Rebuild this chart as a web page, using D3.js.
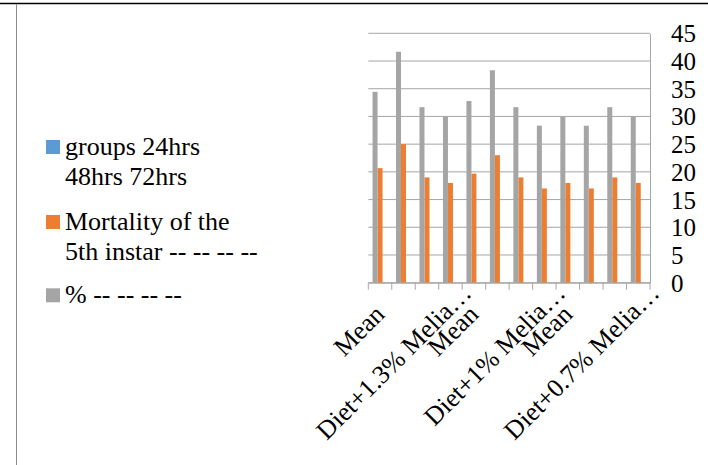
<!DOCTYPE html>
<html>
<head>
<meta charset="utf-8">
<script src="https://cdn.jsdelivr.net/npm/d3@7"></script>
<style>
  html, body { margin: 0; padding: 0; background: #fff; }
  svg { display: block; }
  text { font-family: "Liberation Serif", "Times New Roman", serif; fill: #000; }
</style>
</head>
<body>
<svg id="chart" width="708" height="465"></svg>
<script>
// Twelve groups, drawn left to right
const categories = ["g1", "g2", "g3", "g4", "g5", "g6", "g7", "g8", "g9", "g10", "g11", "g12"];
// Axis labels (every second group is labelled)
const tickLabels = ["Mean", "", "Diet+1.3% Melia…", "", "Mean", "", "Diet+1% Melia…", "", "Mean", "", "Diet+0.7% Melia…", ""];
// Series values
const groupsHrs = [null, null, null, null, null, null, null, null, null, null, null, null];
const mortality5th = [20.67, 25, 19, 18, 19.67, 23, 19, 17, 18, 17, 19, 18];
const percent = [34.44, 41.67, 31.67, 30, 32.78, 38.33, 31.67, 28.33, 30, 28.33, 31.67, 30];
const yTicks = [0, 5, 10, 15, 20, 25, 30, 35, 40, 45];

const seriesColors = ["#5B9BD5", "#ED7D31", "#A5A5A5"];
const seriesValues = [groupsHrs, mortality5th, percent];

const svg = d3.select("#chart");

// page frame
svg.append("line").attr("x1", 0).attr("x2", 708).attr("y1", 3.5).attr("y2", 3.5)
  .attr("stroke", "#000").attr("stroke-width", 1.5);
svg.append("line").attr("x1", 16.5).attr("x2", 16.5).attr("y1", 4).attr("y2", 465)
  .attr("stroke", "#8c8c8c").attr("stroke-width", 1);

const plot = { left: 368.3, right: 650, top: 33.3, bottom: 282.7 };

const x0 = d3.scaleBand().domain(categories).range([plot.left, plot.right]).padding(0);
// bars within each group run right-to-left in series order
const x1 = d3.scaleBand().domain([2, 1, 0]).range([0, x0.bandwidth()])
  .paddingInner(0).paddingOuter(0.847);
const y = d3.scaleLinear().domain([0, 45]).range([plot.bottom, plot.top]);

// gridlines
svg.append("g").selectAll("line").data(yTicks).join("line")
  .attr("x1", plot.left).attr("x2", plot.right)
  .attr("y1", d => y(d)).attr("y2", d => y(d))
  .attr("stroke", "#a6a6a6").attr("stroke-width", 1);

// right value axis
const yAxis = d3.axisRight(y).tickValues(yTicks).tickSize(0).tickPadding(21);
const gy = svg.append("g").attr("transform", `translate(${plot.right},0)`).call(yAxis);
gy.select(".domain").attr("stroke", "#a6a6a6").attr("stroke-width", 1);
gy.selectAll("text").attr("font-size", 25).attr("dy", "0.34em")
  .style("font-family", "'Liberation Serif', serif");

// bars
const rows = categories.map((c, i) => ({ c, vals: seriesValues.map(s => s[i]) }));
const groups = svg.append("g").selectAll("g").data(rows).join("g")
  .attr("transform", d => `translate(${x0(d.c)},0)`);
groups.selectAll("rect")
  .data(d => d.vals.map((v, si) => ({ v, si })).filter(e => e.v != null))
  .join("rect")
  .attr("x", e => x1(e.si))
  .attr("width", x1.bandwidth())
  .attr("y", e => y(e.v))
  .attr("height", e => y(0) - y(e.v))
  .attr("fill", e => seriesColors[e.si]);

// category axis
const xAxis = d3.axisBottom(x0).tickSize(0).tickFormat("");
const gx = svg.append("g").attr("transform", `translate(0,${plot.bottom})`).call(xAxis);
gx.select(".domain").attr("stroke", "#a6a6a6").attr("stroke-width", 1);
const boundaries = categories.map(c => x0(c)).concat([plot.right]);
gx.selectAll(".cat-tick").data(boundaries).join("line").attr("class", "cat-tick")
  .attr("x1", d => d).attr("x2", d => d).attr("y1", 0).attr("y2", 7)
  .attr("stroke", "#a6a6a6").attr("stroke-width", 1);

// rotated category labels
svg.append("g").selectAll("text")
  .data(categories.map((c, i) => ({ c, label: tickLabels[i] })).filter(d => d.label))
  .join("text")
  .attr("font-size", 26)
  .attr("text-anchor", "end")
  .attr("transform", d => {
    const cx = x0(d.c) + x0.bandwidth() / 2;
    const long = d.label.length > 6;
    const ax = long ? cx + 46 : cx + 6;
    const ay = long ? plot.bottom + 12 : plot.bottom + 33;
    return `translate(${ax},${ay}) rotate(-45)`;
  })
  .text(d => d.label);

// legend
const legendLines = [
  ["groups 24hrs", "48hrs 72hrs"],
  ["Mortality of the", "5th instar -- -- -- --"],
  ["% -- -- -- --"]
];
const legendBase = [155, 230, 303.3];
const lg = svg.append("g");
legendLines.forEach((lines, i) => {
  lg.append("rect").attr("x", 46).attr("y", legendBase[i] - 15).attr("width", 14).attr("height", 14)
    .attr("fill", seriesColors[i]);
  const t = lg.append("text").attr("x", 65).attr("y", legendBase[i]).attr("font-size", 26);
  lines.forEach((ln, j) => {
    t.append("tspan").attr("x", 65).attr("dy", j === 0 ? 0 : 30).text(ln);
  });
});
</script>
</body>
</html>
